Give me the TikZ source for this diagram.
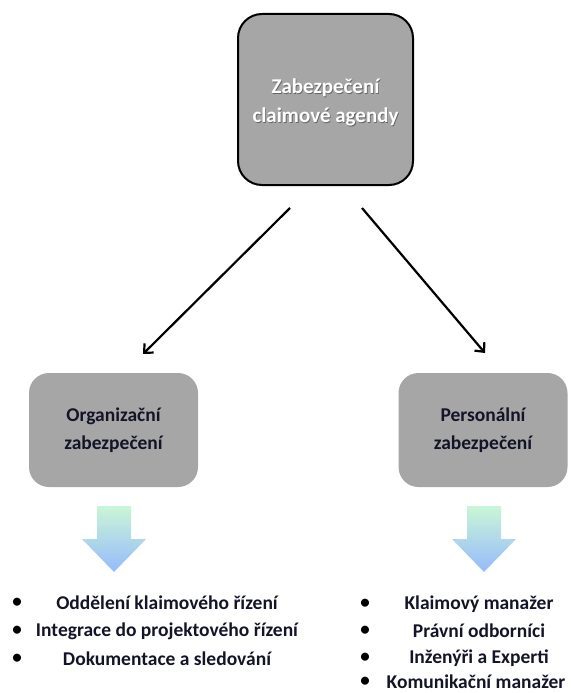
\documentclass[tikz,border=0pt]{standalone}
\usepackage{fontspec}
\setmainfont{Carlito}
\usetikzlibrary{arrows.meta}
\definecolor{boxgray}{RGB}{166,166,166}
\definecolor{arrtop}{RGB}{202,246,214}
\definecolor{arrbot}{RGB}{150,186,252}
\definecolor{txtdark}{RGB}{20,20,40}
\tikzset{
  mainbox/.style={draw=black, line width=2pt, fill=boxgray, rounded corners=24pt,
    minimum width=175pt, minimum height=171pt, align=center},
  subbox/.style={fill=boxgray, rounded corners=20pt, minimum width=169pt,
    minimum height=114pt, align=center, text=txtdark,
    font=\fontsize{19.5}{28}\selectfont\bfseries},
  link/.style={line width=2.2pt, -{Straight Barb[length=7pt,width=13pt,line width=2.2pt]}},
  downarrow/.style={top color=arrtop, bottom color=arrbot, draw=none},
  item/.style={text=txtdark, font=\fontsize{19.5}{22}\selectfont\bfseries, inner sep=0pt},
  bullet/.style={text=black, font=\fontsize{19}{22}\selectfont\bfseries, inner sep=0pt}
}
\begin{document}
\begin{tikzpicture}[x=1pt,y=-1pt]
\useasboundingbox (0,0) rectangle (571,693);

% top box
\node[mainbox] (top) at (325.5,99.5) {};
\node[text=black!60, font=\fontsize{21}{29}\selectfont\bfseries, align=center] (topshadow) at (326.3,103.3) {Zabezpečení\\claimové agendy};
\node[text=white, font=\fontsize{21}{29}\selectfont\bfseries, align=center] (toptext) at (325.5,102.5) {Zabezpečení\\claimové agendy};

% second level boxes
\node[subbox] (org) at (113.5,430) {Organizační\\zabezpečení};
\node[subbox] (pers) at (483,430) {Personální\\zabezpečení};

% connectors
\coordinate (ls) at (290,208);
\coordinate (le) at (143,354);
\coordinate (rs) at (362,208);
\coordinate (re) at (485,353);
\draw[link] (ls) -- (le);
\draw[link] (rs) -- (re);

% block arrows
\shade[downarrow] (97,506) -- (131,506) -- (131,539) -- (146,539) -- (114,572)
  -- (82,539) -- (97,539) -- cycle;
\shade[downarrow] (467,506) -- (501,506) -- (501,539) -- (516,539) -- (484,572)
  -- (452,539) -- (467,539) -- cycle;

% left list
\node[bullet] (lb1) at (17,603) {•};
\node[bullet] (lb2) at (17,631) {•};
\node[bullet] (lb3) at (17,659) {•};
\node[item] (l1) at (167,603) {Oddělení klaimového řízení};
\node[item] (l2) at (167,631) {Integrace do projektového řízení};
\node[item] (l3) at (167,659) {Dokumentace a sledování};

% right list
\node[bullet] (rb1) at (365,604) {•};
\node[bullet] (rb2) at (365,631) {•};
\node[bullet] (rb3) at (365,658) {•};
\node[bullet] (rb4) at (365,682) {•};
\node[item] (r1) at (479,604) {Klaimový manažer};
\node[item] (r2) at (479,631) {Právní odborníci};
\node[item] (r3) at (479,658) {Inženýři a Experti};
\node[item] (r4) at (476,682) {Komunikační manažer};
\end{tikzpicture}
\end{document}
